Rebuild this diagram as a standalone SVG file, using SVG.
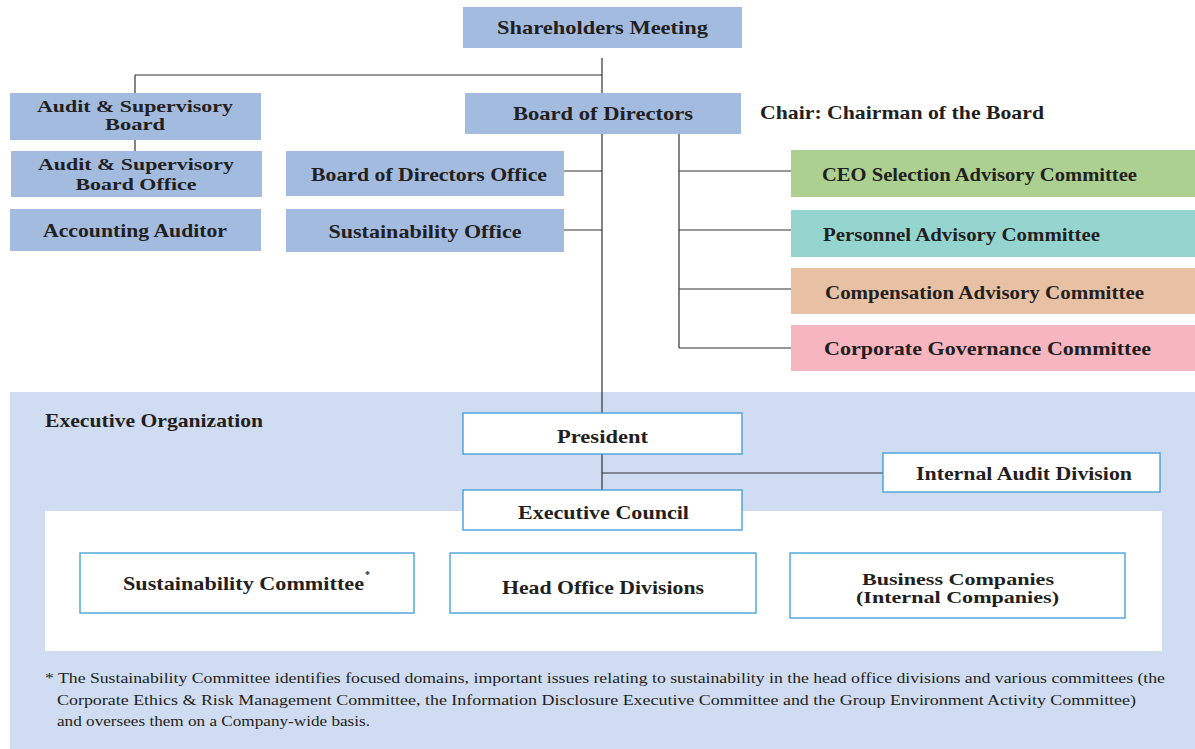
<svg xmlns="http://www.w3.org/2000/svg" width="1195" height="749" viewBox="0 0 1195 749">
<style>
.t{font-family:"Liberation Serif","Times New Roman",serif;font-weight:bold;font-size:19px;fill:#231f20}
.s{font-size:17px}
.f{font-family:"Liberation Serif","Times New Roman",serif;font-size:15px;fill:#231f20}
.b{fill:#a4bbe0}
.w{fill:#fff;stroke:#3d9ad6;stroke-width:1.3}
.c{stroke:#333;stroke-width:1.2;fill:none}
</style>
<rect id="exec-area" x="10" y="392" width="1185" height="357" fill="#d0dcf1"/>
<rect id="exec-inner" x="45" y="511" width="1117" height="140" fill="#fff"/>
<text class="t" x="45" y="427" textLength="218" lengthAdjust="spacingAndGlyphs">Executive Organization</text>
<g id="connectors">
<path class="c" d="M602 58V413M135 75H602M135 75V93M135 140V151"/>
<path class="c" d="M564 171H602M564 230H602"/>
<path class="c" d="M679 134V348M679 171H791M679 230H791M679 289H791M679 348H791"/>
<path class="c" d="M602 454V490M602 473H883"/>
</g>
<g id="shareholders"><rect class="b" x="463" y="7" width="279" height="41"/><text class="t" x="602.5" y="34" text-anchor="middle" textLength="211" lengthAdjust="spacingAndGlyphs">Shareholders Meeting</text></g>
<g id="asb"><rect class="b" x="10" y="93" width="251" height="47"/><text class="t s" x="135" y="112" text-anchor="middle" textLength="196" lengthAdjust="spacingAndGlyphs">Audit &amp; Supervisory</text><text class="t s" x="135" y="130" text-anchor="middle" textLength="60" lengthAdjust="spacingAndGlyphs">Board</text></g>
<g id="asbo"><rect class="b" x="11" y="151" width="251" height="46"/><text class="t s" x="136" y="170" text-anchor="middle" textLength="196" lengthAdjust="spacingAndGlyphs">Audit &amp; Supervisory</text><text class="t s" x="136" y="190" text-anchor="middle" textLength="121" lengthAdjust="spacingAndGlyphs">Board Office</text></g>
<g id="acc"><rect class="b" x="10" y="209" width="251" height="42"/><text class="t" x="135" y="237" text-anchor="middle" textLength="184" lengthAdjust="spacingAndGlyphs">Accounting Auditor</text></g>
<g id="bod"><rect class="b" x="465" y="93" width="276" height="41"/><text class="t" x="603" y="120" text-anchor="middle" textLength="180" lengthAdjust="spacingAndGlyphs">Board of Directors</text></g>
<g id="chair"><text class="t" x="760" y="119" textLength="284" lengthAdjust="spacingAndGlyphs">Chair: Chairman of the Board</text></g>
<g id="bodo"><rect class="b" x="286" y="151" width="278" height="45"/><text class="t" x="429" y="181" text-anchor="middle" textLength="236" lengthAdjust="spacingAndGlyphs">Board of Directors Office</text></g>
<g id="so"><rect class="b" x="286" y="209" width="278" height="43"/><text class="t" x="425" y="238" text-anchor="middle" textLength="193" lengthAdjust="spacingAndGlyphs">Sustainability Office</text></g>
<g id="ceo"><rect x="791" y="150" width="404" height="47" fill="#acd090"/><text class="t" x="822" y="181" textLength="315" lengthAdjust="spacingAndGlyphs">CEO Selection Advisory Committee</text></g>
<g id="pers"><rect x="791" y="210" width="404" height="47" fill="#95d5d0"/><text class="t" x="823" y="241" textLength="277" lengthAdjust="spacingAndGlyphs">Personnel Advisory Committee</text></g>
<g id="comp"><rect x="791" y="268" width="404" height="46" fill="#e8c1a4"/><text class="t" x="825" y="299" textLength="319" lengthAdjust="spacingAndGlyphs">Compensation Advisory Committee</text></g>
<g id="cgc"><rect x="791" y="325" width="404" height="46" fill="#f7b5bf"/><text class="t" x="824" y="355" textLength="327" lengthAdjust="spacingAndGlyphs">Corporate Governance Committee</text></g>
<g id="president"><rect class="w" x="463" y="413" width="279" height="41"/><text class="t" x="602.5" y="443" text-anchor="middle" textLength="91" lengthAdjust="spacingAndGlyphs">President</text></g>
<g id="iad"><rect class="w" x="883" y="453" width="277" height="39"/><text class="t" x="1024" y="480" text-anchor="middle" textLength="216" lengthAdjust="spacingAndGlyphs">Internal Audit Division</text></g>
<g id="council"><rect class="w" x="463" y="490" width="279" height="40"/><text class="t" x="603.5" y="519" text-anchor="middle" textLength="171" lengthAdjust="spacingAndGlyphs">Executive Council</text></g>
<g id="sc"><rect class="w" x="80" y="553" width="334" height="60"/><text class="t" x="123" y="590" textLength="241" lengthAdjust="spacingAndGlyphs">Sustainability Committee</text><text class="t" x="365" y="578" style="font-size:10px">*</text></g>
<g id="hod"><rect class="w" x="450" y="553" width="306" height="60"/><text class="t" x="603" y="594" text-anchor="middle" textLength="202" lengthAdjust="spacingAndGlyphs">Head Office Divisions</text></g>
<g id="bc"><rect class="w" x="790" y="553" width="335" height="65"/><text class="t s" x="958" y="585" text-anchor="middle" textLength="192" lengthAdjust="spacingAndGlyphs">Business Companies</text><text class="t s" x="957.5" y="603" text-anchor="middle" textLength="203" lengthAdjust="spacingAndGlyphs">(Internal Companies)</text></g>
<g id="footnote">
<text class="f" x="45" y="683" textLength="1120" lengthAdjust="spacingAndGlyphs">* The Sustainability Committee identifies focused domains, important issues relating to sustainability in the head office divisions and various committees (the</text>
<text class="f" x="57" y="705" textLength="1079" lengthAdjust="spacingAndGlyphs">Corporate Ethics &amp; Risk Management Committee, the Information Disclosure Executive Committee and the Group  Environment Activity Committee)</text>
<text class="f" x="57" y="726" textLength="313" lengthAdjust="spacingAndGlyphs">and oversees them on a Company-wide basis.</text>
</g>
</svg>
